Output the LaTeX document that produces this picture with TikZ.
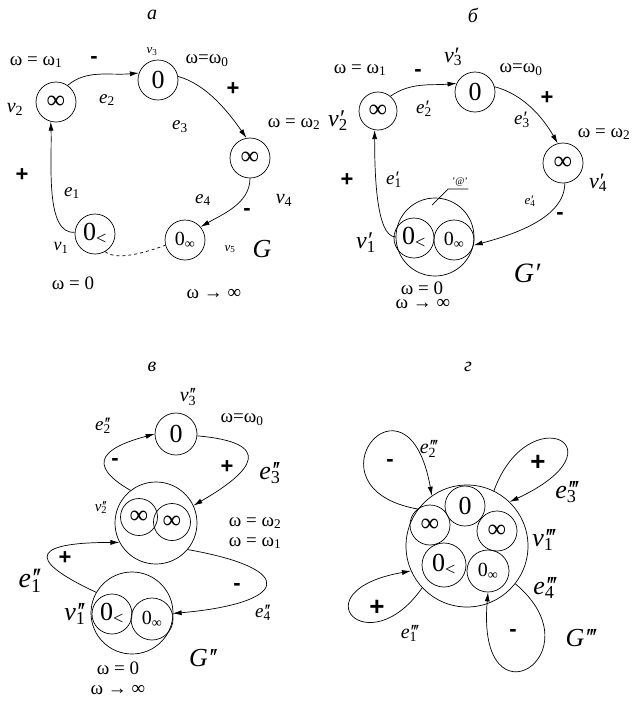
\documentclass[tikz,border=0pt]{standalone}
\usepackage{fontspec}
\setmainfont{Liberation Serif}
\newfontfamily\signfont{Liberation Sans}
\usetikzlibrary{arrows.meta}
\newcommand\fs[1]{\fontsize{#1}{#1}\selectfont}
% label with primes stacked over the index
\newcommand\pv[3]{\textit{#1}\rlap{\kern0.05em#2}\textsubscript{#3}}
\newcommand\pI{\char"2032}
\newcommand\pII{\char"2032\kern-0.1em\char"2032}
\newcommand\pIII{\char"2032\kern-0.1em\char"2032\kern-0.1em\char"2032}

\begin{document}
\begin{tikzpicture}[x=1pt, y=-1pt, line width=0.7pt,
    vtx/.style={circle, draw, inner sep=0pt, minimum size=40pt, font=\fs{26}},
    hub/.style={circle, draw, inner sep=0pt},
    lbl/.style={inner sep=0pt, font=\fs{19}},
    sgn/.style={inner sep=0pt, font=\signfont\bfseries\fs{22}},
    arc/.style={-{Latex[length=9pt,width=5pt]}}]

  \useasboundingbox[fill=white] (0,0) rectangle (633,702);

  % --- a ---
  \node[lbl, font=\fs{20}\itshape] (capa) at (152,15) {а};
  \node[vtx] (a2) at (56,102) {∞};
  \node[vtx] (a3) at (158,80) {0};
  \node[vtx] (a4) at (250,158) {∞};
  \node[vtx] (a1) at (95,234) {0\textsubscript{<}};
  \node[vtx, font=\fs{20}] (a5) at (185,240) {0\textsubscript{∞}};

  \draw[arc] (a2.55) .. controls +(-40:25) and +(175:30) .. (a3.160);
  \draw[arc] (a3.10) .. controls +(15:30) and +(-125:30) .. (a4.100);
  \draw[arc] (a4.-90) .. controls +(90:25) and +(-30:25) .. (a5.40);
  \draw[arc] (a1.175) .. controls +(175:30) and +(88:40) .. (a2.-105);
  \draw[dashed] (a1.-60) .. controls +(40:15) and +(160:20) .. (a5.195);

  \node[lbl] (wa1) at (36,62) {ω = ω\textsubscript{1}};
  \node[sgn] (sa2) at (94,60) {-};
  \node[lbl, font=\fs{13}] (la3) at (152,52) {\textit{v}\textsubscript{3}};
  \node[lbl] (wa0) at (207,61) {ω=ω\textsubscript{0}};
  \node[sgn] (sa3) at (233,89) {+};
  \node[lbl, font=\fs{20}] (la2) at (15,109) {\textit{v}\textsubscript{2}};
  \node[lbl] (ea2) at (107,100) {\textit{e}\textsubscript{2}};
  \node[lbl] (ea3) at (180,127) {\textit{e}\textsubscript{3}};
  \node[lbl] (wa2) at (294,124) {ω = ω\textsubscript{2}};
  \node[sgn] (sa1) at (22,175) {+};
  \node[lbl] (ea1) at (72,193) {\textit{e}\textsubscript{1}};
  \node[lbl] (ea4) at (203,200) {\textit{e}\textsubscript{4}};
  \node[lbl, font=\fs{20}] (la4) at (284,200) {\textit{v}\textsubscript{4}};
  \node[sgn] (sa4) at (247,212) {-};
  \node[lbl, font=\fs{18}] (la1) at (61,248) {\textit{v}\textsubscript{1}};
  \node[lbl, font=\fs{13}] (la5) at (230,249) {\textit{v}\textsubscript{5}};
  \node[lbl, font=\fs{26}\itshape] (ga) at (262,249) {G};
  \node[lbl] (wa5) at (73,283) {ω = 0};
  \node[lbl] (wa6) at (214,294) {ω → ∞};

  % --- b ---
  \node[lbl, font=\fs{20}\itshape] (capb) at (473,15) {б};
  \node[vtx, minimum size=38pt] (b2) at (378,111) {∞};
  \node[vtx] (b3) at (475,92) {0};
  \node[vtx] (b4) at (563,163) {∞};
  \node[hub, minimum size=78pt] (b1) at (435,237) {};
  \node[vtx] (b1l) at (414,238) {0\textsubscript{<}};
  \node[vtx, font=\fs{20}] (b1r) at (454,240) {0\textsubscript{∞}};

  \draw[arc] (b2.50) .. controls +(-35:25) and +(175:25) .. (b3.155);
  \draw[arc] (b3.15) .. controls +(15:30) and +(-120:30) .. (b4.105);
  \draw[arc] (b4.-85) .. controls +(90:35) and +(-15:40) .. (b1r.-15);
  \draw[arc] (b1.180) .. controls +(180:20) and +(90:40) .. (b2.-100);

  \node[lbl, font=\fs{10}] (atq) at (460,182) {'@'};
  \coordinate (at1) at (432,205);
  \coordinate (at2) at (448,189);
  \draw (at1) -- (at2) -- (at2 -| atq.east);

  \node[lbl] (wb1) at (360,70) {ω = ω\textsubscript{1}};
  \node[sgn] (sb2) at (418,73) {-};
  \node[lbl, font=\fs{22}] (lb3) at (453,57) {\pv{v}{\pI}{3}};
  \node[lbl] (wb0) at (521,70) {ω=ω\textsubscript{0}};
  \node[sgn] (sb3) at (547,98) {+};
  \node[lbl, font=\fs{24}] (lb2) at (338,121) {\pv{v}{\pI}{2}};
  \node[lbl] (eb2) at (424,109) {\pv{e}{\pI}{2}};
  \node[lbl] (eb3) at (522,120) {\pv{e}{\pI}{3}};
  \node[lbl] (wb2) at (604,134) {ω = ω\textsubscript{2}};
  \node[lbl, font=\fs{22}] (lb4) at (598,183) {\pv{v}{\pI}{4}};
  \node[sgn] (sb1) at (347,180) {+};
  \node[lbl] (eb1) at (394,180) {\pv{e}{\pI}{1}};
  \node[lbl, font=\fs{13}] (eb4) at (530,201) {\pv{e}{\pI}{4}};
  \node[sgn] (sb4) at (560,216) {-};
  \node[lbl, font=\fs{24}] (lb1) at (366,243) {\pv{v}{\pI}{1}};
  \node[lbl, font=\fs{28}\itshape] (gb) at (527,273) {G\pI};
  \node[lbl] (wb5) at (422,288) {ω = 0};
  \node[lbl] (wb6) at (423,304) {ω → ∞};

  % --- v ---
  \node[lbl, font=\fs{20}\itshape] (capc) at (152,367) {в};
  \node[vtx, minimum size=42pt] (c3) at (176,434) {0};
  \node[hub, minimum size=82pt] (c2) at (156,523) {};
  \node[vtx, minimum size=37pt] (c2l) at (139,517) {∞};
  \node[vtx, minimum size=37pt] (c2r) at (172,522) {∞};
  \node[hub, minimum size=82pt] (c1) at (132,613) {};
  \node[vtx] (c1l) at (112,614) {0\textsubscript{<}};
  \node[vtx, minimum size=42pt, font=\fs{20}] (c1r) at (152,619) {0\textsubscript{∞}};

  \draw[arc] (c2.128) .. controls +(210:55) and +(165:50) .. (c3.180);
  \draw[arc] (c3.-5) .. controls +(5:78) and +(-30:70) .. (c2.25);
  \draw[arc] (c1.150) .. controls +(-155:85) and +(180:80) .. (c2.208);
  \draw[arc] (c2.-40) .. controls +(10:115) and +(-5:115) .. (c1r.15);

  \node[lbl, font=\fs{20}] (lc3) at (188,397) {\pv{v}{\pII}{3}};
  \node[lbl] (wc0) at (242,420) {ω=ω\textsubscript{0}};
  \node[lbl] (ec2) at (103,426) {\pv{e}{\pII}{2}};
  \node[sgn] (sc2) at (115,462) {-};
  \node[sgn] (sc3) at (227,467) {+};
  \node[lbl, font=\fs{26}] (ec3) at (270,473) {\pv{e}{\pII}{3}};
  \node[lbl, font=\fs{15}] (lc2) at (101,508) {\pv{v}{\pII}{2}};
  \node[lbl] (wc2) at (255,523) {ω = ω\textsubscript{2}};
  \node[lbl] (wc1) at (255,543) {ω = ω\textsubscript{1}};
  \node[sgn] (sc1) at (65,558) {+};
  \node[lbl, font=\fs{28}] (ec1) at (30,581) {\pv{e}{\pII}{1}};
  \node[sgn] (sc4) at (237,587) {-};
  \node[lbl, font=\fs{26}] (lc1) at (75,614) {\pv{v}{\pII}{1}};
  \node[lbl] (ec4) at (263,613) {\pv{e}{\pII}{4}};
  \node[lbl, font=\fs{26}\itshape] (gc) at (203,658) {G\pII};
  \node[lbl] (wc5) at (118,668) {ω = 0};
  \node[lbl] (wc6) at (118,690) {ω → ∞};

  % --- g ---
  \node[lbl, font=\fs{20}\itshape] (capd) at (468,367) {г};
  \node[hub, minimum size=122pt] (g1) at (467,546) {};
  \node[vtx] (g0) at (465,506) {0};
  \node[vtx] (gl) at (430,525) {∞};
  \node[vtx] (gr) at (497,531) {∞};
  \node[vtx, minimum size=44pt] (gzl) at (444,565) {0\textsubscript{<}};
  \node[vtx, minimum size=42pt, font=\fs{20}] (gzr) at (488,571) {0\textsubscript{∞}};

  \draw[arc] (g1.143) .. controls +(-170:120) and +(-100:140) .. (g1.125);
  \draw[arc] (g1.64) .. controls +(-70:100) and +(-25:130) .. (g1.46);
  \draw[arc] (g1.223) .. controls +(125:95) and +(170:115) .. (g1.204);
  \draw[arc] (g1.-38) .. controls +(40:110) and +(95:140) .. (gzr.-90);

  \node[lbl, font=\fs{20}] (eg2) at (428,449) {\pv{e}{\pIII}{2}};
  \node[sgn] (sg2) at (390,463) {-};
  \node[sgn, font=\signfont\bfseries\fs{26}] (sg3) at (538,463) {+};
  \node[lbl, font=\fs{26}] (eg3) at (566,492) {\pv{e}{\pIII}{3}};
  \node[lbl, font=\fs{26}] (lg1) at (543,540) {\pv{v}{\pIII}{1}};
  \node[lbl, font=\fs{26}] (eg4) at (544,588) {\pv{e}{\pIII}{4}};
  \node[sgn, font=\signfont\bfseries\fs{26}] (sg1) at (377,608) {+};
  \node[lbl, font=\fs{20}] (eg1) at (409,633) {\pv{e}{\pIII}{1}};
  \node[sgn] (sg4) at (513,633) {-};
  \node[lbl, font=\fs{26}\itshape] (gd) at (581,638) {G\pIII};
\end{tikzpicture}
\end{document}
